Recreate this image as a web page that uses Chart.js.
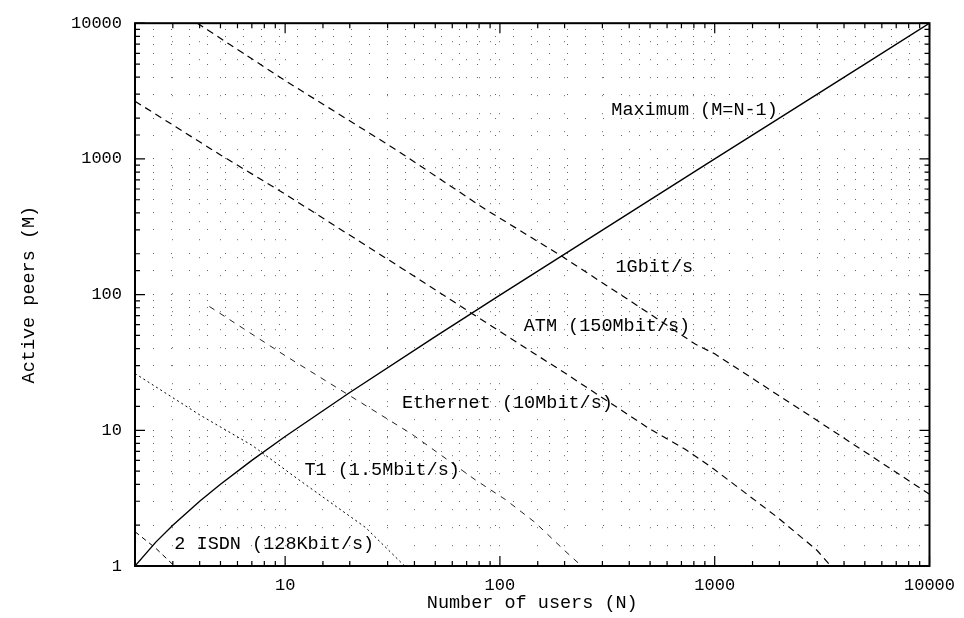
<!DOCTYPE html>
<html>
<head>
<meta charset="utf-8">
<script src="https://cdn.jsdelivr.net/npm/chart.js@4.4.1/dist/chart.umd.min.js"></script>
<style>
html,body{margin:0;padding:0;background:#fff;}
#wrap{width:964px;height:618px;}
</style>
</head>
<body>
<div id="wrap"><canvas id="c" width="964" height="618"></canvas></div>
<script>
// ---- data ----
const nMax  = [2, 2.5, 3, 4, 5, 7, 10, 20, 50, 100, 200, 500, 1000, 2000, 5000, 10000];
const mMax  = [1, 1.5, 2, 3, 4, 6, 9, 19, 49, 99, 199, 499, 999, 1999, 4999, 9999];

const nGbit = [3.9, 10, 32.8, 86, 193, 500, 811, 1000, 3000, 10000];
const mGbit = [10000, 3775, 1170, 423, 193, 72, 43.2, 36.6, 11.8, 3.38];

const nAtm  = [2, 5, 9.9, 35, 73, 200, 500, 729, 983, 1970, 3000, 3470];
const mAtm  = [2660, 1070, 556, 156, 73.6, 26.5, 10.2, 7.26, 5.23, 2.27, 1.3, 1];

const nEth  = [4.44, 10, 38.9, 76.9, 106, 146, 200, 240];
const mEth  = [81.7, 35.5, 9.37, 4.31, 3.09, 2.09, 1.3, 1];

const nT1   = [2, 4, 7.03, 11.6, 23.7, 36];
const mT1   = [26.2, 13, 7.73, 4.31, 1.92, 1];

const nIsdn = [2, 2.5, 3.05];
const mIsdn = [1.79, 1.35, 1];

const noteText = ["Maximum (M=N-1)", "1Gbit/s", "ATM (150Mbit/s)", "Ethernet (10Mbit/s)", "T1 (1.5Mbit/s)", "2 ISDN (128Kbit/s)"];
const noteN    = [330, 345, 129, 35, 12.3, 3.05];
const noteM    = [2290, 159, 58.6, 15.9, 5.12, 1.46];

const xTickLabels = [10, 100, 1000, 10000];
const yTickLabels = [1, 10, 100, 1000, 10000];

const xTitle = "Number of users (N)";
const yTitle = "Active peers (M)";

// ---- build ----
function pts(xs, ys){ return xs.map((x,i)=>({x:x, y:ys[i]})); }

const FONT = "'Liberation Mono', 'Courier New', 'DejaVu Sans Mono', monospace";
Chart.defaults.font.family = FONT;
Chart.defaults.color = '#000';

const series = [
  {data: pts(nMax, mMax),   dash: [],     w: 1.4, c: '#000'},
  {data: pts(nGbit, mGbit), dash: [7, 5], w: 1.2, c: '#000'},
  {data: pts(nAtm, mAtm),   dash: [7, 5], w: 1.2, c: '#000'},
  {data: pts(nEth, mEth),   dash: [6, 6], w: 1.0, c: '#222'},
  {data: pts(nT1, mT1),     dash: [2, 3], w: 1.0, c: '#000'},
  {data: pts(nIsdn, mIsdn), dash: [5, 4], w: 1.0, c: '#000'}
];

const decor = {
  id: 'decor',
  afterDatasetsDraw(chart){
    const ctx = chart.ctx, a = chart.chartArea;
    const xs = chart.scales.x, ys = chart.scales.y;
    ctx.save();
    ctx.strokeStyle = '#000';
    ctx.lineWidth = 1.2;
    ctx.setLineDash([]);
    const isMajor = v => Math.abs(Math.log10(v) - Math.round(Math.log10(v))) < 1e-9;
    xs.ticks.forEach(t => {
      const p = xs.getPixelForValue(t.value);
      const L = isMajor(t.value) ? 10 : 5;
      ctx.beginPath();
      ctx.moveTo(p, a.bottom); ctx.lineTo(p, a.bottom - L);
      ctx.moveTo(p, a.top); ctx.lineTo(p, a.top + L);
      ctx.stroke();
    });
    ys.ticks.forEach(t => {
      const p = ys.getPixelForValue(t.value);
      const L = isMajor(t.value) ? 10 : 5;
      ctx.beginPath();
      ctx.moveTo(a.left, p); ctx.lineTo(a.left + L, p);
      ctx.moveTo(a.right, p); ctx.lineTo(a.right - L, p);
      ctx.stroke();
    });
    ctx.lineWidth = 2;
    ctx.strokeRect(a.left, a.top, a.right - a.left, a.bottom - a.top);
    ctx.fillStyle = '#000';
    ctx.font = "18.5px " + FONT;
    ctx.textAlign = 'left';
    ctx.textBaseline = 'middle';
    noteText.forEach((s, i) => {
      ctx.fillText(s, xs.getPixelForValue(noteN[i]), ys.getPixelForValue(noteM[i]));
    });
    ctx.restore();
  }
};

new Chart(document.getElementById('c'), {
  type: 'line',
  data: {
    datasets: series.map(s => ({
      data: s.data,
      borderColor: s.c,
      borderWidth: s.w,
      borderDash: s.dash,
      pointRadius: 0,
      fill: false,
      tension: 0
    }))
  },
  options: {
    responsive: false,
    animation: false,
    devicePixelRatio: 1,
    layout: {padding: {top: 13, right: 32, bottom: 0, left: 0}},
    plugins: {legend: {display: false}, tooltip: {enabled: false}},
    scales: {
      x: {
        type: 'logarithmic',
        min: 2, max: 10000,
        afterFit(s){ s.height = 52; },
        grid: {color: 'rgba(0,0,0,0.6)', lineWidth: 1, drawTicks: false},
        border: {display: false, dash: [1, 17]},
        ticks: {
          autoSkip: false, maxRotation: 0, padding: 9,
          font: {size: 17},
          callback: v => xTickLabels.includes(v) ? String(v) : ''
        },
        title: {display: true, text: xTitle, font: {size: 18.5}, padding: {top: 0, bottom: 4}}
      },
      y: {
        type: 'logarithmic',
        min: 1, max: 10000,
        afterFit(s){ s.width = 135; },
        grid: {color: 'rgba(0,0,0,0.6)', lineWidth: 1, drawTicks: false},
        border: {display: false, dash: [1, 17]},
        ticks: {
          autoSkip: false, padding: 13,
          font: {size: 17},
          callback: v => yTickLabels.includes(v) ? String(v) : ''
        },
        title: {display: true, text: yTitle, font: {size: 18.5}, padding: {top: 18, bottom: 0}}
      }
    }
  },
  plugins: [decor]
});
</script>
</body>
</html>
